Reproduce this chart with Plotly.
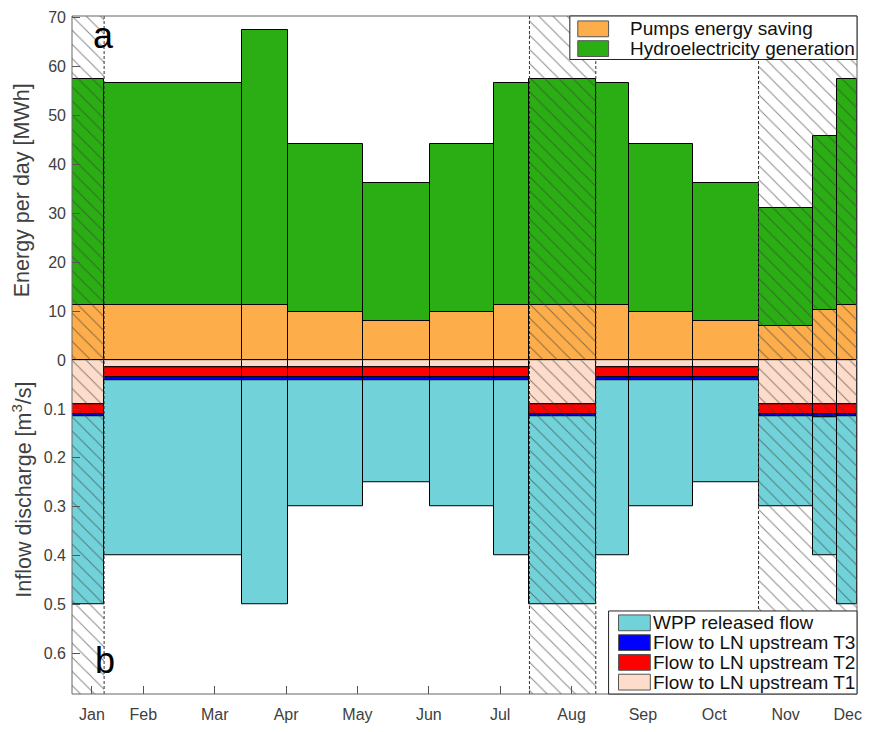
import numpy as np
import plotly.graph_objects as go

# ---------------- data ----------------
# period boundaries (month index, 1 = start of Jan, 12 = end of axis)
edges = [1.0, 1.45, 3.38, 4.02, 5.08, 6.01, 6.92, 7.41, 8.34, 8.80, 9.70, 10.62, 11.38, 11.72, 12.0]
# periods shown with hatching (1 = hatched)
hatched = [1, 0, 0, 0, 0, 0, 0, 1, 0, 0, 0, 1, 1, 1]

# energy per day [MWh]
pumps_saving = [11.2, 11.2, 11.3, 9.8, 8.0, 9.8, 11.2, 11.2, 11.2, 9.8, 8.0, 7.0, 10.2, 11.3]
hydro_generation = [46.3, 45.5, 56.1, 34.3, 28.2, 34.3, 45.5, 46.3, 45.5, 34.3, 28.2, 24.1, 35.5, 46.2]

# inflow discharge [m3/s]
flow_t1 = [0.090, 0.015, 0.015, 0.015, 0.015, 0.015, 0.015, 0.090, 0.015, 0.015, 0.015, 0.090, 0.090, 0.090]
flow_t2 = [0.020, 0.020, 0.020, 0.020, 0.020, 0.020, 0.020, 0.020, 0.020, 0.020, 0.020, 0.020, 0.020, 0.020]
flow_t3 = [0.004, 0.005, 0.005, 0.005, 0.005, 0.005, 0.005, 0.004, 0.005, 0.005, 0.005, 0.004, 0.007, 0.004]
wpp_flow = [0.386, 0.360, 0.460, 0.260, 0.210, 0.260, 0.360, 0.386, 0.360, 0.260, 0.210, 0.186, 0.283, 0.386]

month_labels = ["Jan", "Feb", "Mar", "Apr", "May", "Jun", "Jul", "Aug", "Sep", "Oct", "Nov", "Dec"]
month_ticks = [1.28, 2, 3, 4, 5, 6, 7, 8, 9, 10, 11, 11.87]

energy_ticks = [0, 10, 20, 30, 40, 50, 60, 70]
flow_ticks = [0.1, 0.2, 0.3, 0.4, 0.5, 0.6]

# ---------------- styling ----------------
FONT = "Liberation Sans"
C_PUMP = "#FDAE4B"
C_HYDRO = "#2AAE13"
C_WPP = "#71D3D9"
C_T3 = "#0000FF"
C_T2 = "#FF0000"
C_T1 = "#FEDCCB"
TICK_COL = "#404040"

W, H = 871, 732
ML, MR, MT, MB = 72, 9, 11, 35
PW, PH = W - ML - MR, H - MT - MB
E_TOP = 70.3
F_BOT = 0.684
ZERO_PX = 359.3
split = (H - MB - ZERO_PX) / PH


def px_x(px):
    return (px - ML) / PW


def px_y(py):
    return (H - MB - py) / PH


e = np.array(edges)
centers = (e[:-1] + e[1:]) / 2
widths = np.diff(e)

t1 = np.array(flow_t1)
t2 = np.array(flow_t2)
t3 = np.array(flow_t3)
wpp = np.array(wpp_flow)

fig = go.Figure()


def add_bar(vals, base, color, name, axis):
    fig.add_trace(go.Bar(
        x=centers, y=vals, base=base, width=widths, name=name, yaxis=axis,
        marker=dict(color=color, line=dict(color="black", width=1)),
        showlegend=False, hoverinfo="skip",
    ))


add_bar(pumps_saving, [0] * len(pumps_saving), C_PUMP, "Pumps energy saving", "y")
add_bar(hydro_generation, pumps_saving, C_HYDRO, "Hydroelectricity generation", "y")
add_bar(t1, np.zeros_like(t1), C_T1, "Flow to LN upstream T1", "y2")
add_bar(t2, t1, C_T2, "Flow to LN upstream T2", "y2")
add_bar(t3, t1 + t2, C_T3, "Flow to LN upstream T3", "y2")
add_bar(wpp, t1 + t2 + t3, C_WPP, "WPP released flow", "y2")

# hatched periods overlay
hidx = [i for i, h in enumerate(hatched) if h]
pat = dict(shape="\\", size=10, solidity=0.1, fgcolor="rgba(60,60,60,0.6)",
           bgcolor="rgba(0,0,0,0)", fillmode="replace")
for axis, top in (("y", E_TOP), ("y2", F_BOT)):
    fig.add_trace(go.Bar(
        x=centers[hidx], y=[top] * len(hidx), base=[0] * len(hidx), width=widths[hidx],
        yaxis=axis, marker=dict(color="rgba(0,0,0,0)", line=dict(width=0), pattern=pat),
        showlegend=False, hoverinfo="skip",
    ))

shapes = []
# dashed boundaries of hatched periods
for i in range(1, len(hatched)):
    if hatched[i] != hatched[i - 1]:
        shapes.append(dict(type="line", xref="x", yref="paper", x0=edges[i], x1=edges[i],
                           y0=0, y1=1, line=dict(color="#333333", width=1, dash="3px,2px"),
                           layer="above"))
# frame
shapes.append(dict(type="rect", xref="paper", yref="paper", x0=0, x1=1, y0=0, y1=1,
                   line=dict(color="#666666", width=1), layer="above"))

annotations = []


def legend_box(box, items, sw_x, rows, text_x):
    x0, y0, x1, y1 = box
    shapes.append(dict(type="rect", xref="paper", yref="paper",
                       x0=px_x(x0), x1=px_x(x1), y0=px_y(y1), y1=px_y(y0),
                       fillcolor="white", line=dict(color="#222222", width=1), layer="above"))
    for (color, label), (ry0, ry1) in zip(items, rows):
        shapes.append(dict(type="rect", xref="paper", yref="paper",
                           x0=px_x(sw_x[0]), x1=px_x(sw_x[1]), y0=px_y(ry1), y1=px_y(ry0),
                           fillcolor=color, line=dict(color="#555555", width=1), layer="above"))
        annotations.append(dict(xref="paper", yref="paper", x=px_x(text_x),
                                y=px_y((ry0 + ry1) / 2), text=label, showarrow=False,
                                xanchor="left", yanchor="middle",
                                font=dict(family=FONT, size=19, color="#111111")))


legend_box((573, 11, 862, 55),
           [(C_PUMP, "Pumps energy saving"), (C_HYDRO, "Hydroelectricity generation")],
           (581, 612), [(16, 32), (36, 52)], 632)
legend_box((612, 613, 862, 697),
           [(C_WPP, "WPP released flow"), (C_T3, "Flow to LN upstream T3"),
            (C_T2, "Flow to LN upstream T2"), (C_T1, "Flow to LN upstream T1")],
           (622, 654), [(617, 633), (637, 653), (657, 673), (677, 693)], 655)

# panel letters
annotations.append(dict(xref="paper", yref="paper", x=px_x(104), y=px_y(31), text="a",
                        xanchor="center", yanchor="middle", showarrow=False,
                        font=dict(family=FONT, size=36, color="black")))
annotations.append(dict(xref="paper", yref="paper", x=px_x(105), y=px_y(663), text="b",
                        xanchor="center", yanchor="middle", showarrow=False,
                        font=dict(family=FONT, size=36, color="black")))

# axis titles
annotations.append(dict(xref="paper", yref="paper", x=px_x(22), y=px_y(187),
                        xanchor="center", yanchor="middle",
                        text="Energy per day [MWh]", textangle=-90, showarrow=False,
                        font=dict(family=FONT, size=21.5, color=TICK_COL)))
annotations.append(dict(xref="paper", yref="paper", x=px_x(22), y=px_y(490),
                        xanchor="center", yanchor="middle",
                        text="Inflow discharge [m<sup>3</sup>/s]", textangle=-90, showarrow=False,
                        font=dict(family=FONT, size=21.5, color=TICK_COL)))

axis_common = dict(showgrid=False, zeroline=False, showline=False, ticks="inside",
                   ticklen=8, tickcolor="#555555", tickwidth=1,
                   tickfont=dict(family=FONT, size=16, color=TICK_COL))

fig.update_layout(
    width=W, height=H,
    margin=dict(l=ML, r=MR, t=MT, b=MB),
    plot_bgcolor="white", paper_bgcolor="white",
    barmode="overlay", bargap=0, showlegend=False,
    xaxis=dict(range=[edges[0], edges[-1]], tickvals=month_ticks, ticktext=month_labels,
               anchor="y2", ticklabelstandoff=9, **axis_common),
    yaxis=dict(domain=[split, 1], range=[-0.01, E_TOP], tickvals=energy_ticks,
               ticklabelstandoff=5, **axis_common),
    yaxis2=dict(domain=[0, split], range=[F_BOT, 0], tickvals=flow_ticks,
                ticktext=[f"{v:.1f}" for v in flow_ticks], ticklabelstandoff=5, **axis_common),
    shapes=shapes,
    annotations=annotations,
)

fig.write_html("out.html")
